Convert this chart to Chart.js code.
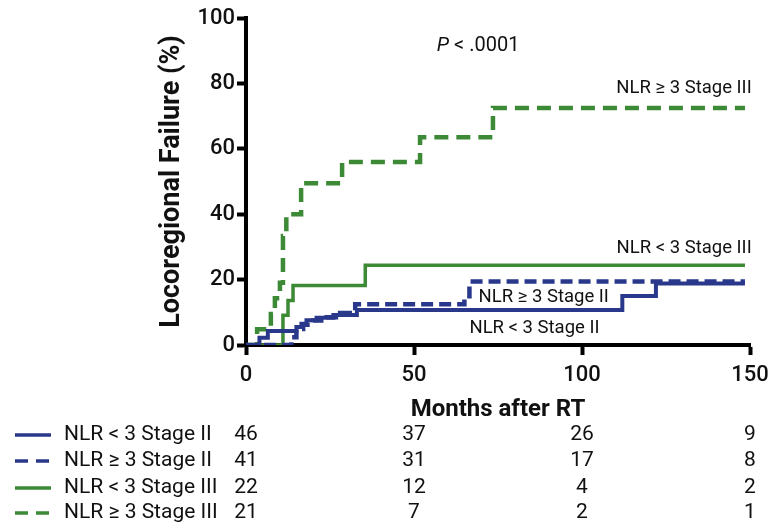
<!DOCTYPE html>
<html>
<head>
<meta charset="utf-8">
<script src="https://cdn.jsdelivr.net/npm/chart.js@4.4.0/dist/chart.umd.min.js"></script>
<style>
  html, body { margin: 0; padding: 0; background: #fff; }
  #wrap { width: 778px; height: 529px; }
</style>
</head>
<body>
<div id="wrap"><canvas id="kmChart" width="778" height="529"></canvas></div>
<script>
// Kaplan-Meier steps (months after RT, % locoregional failure)
const lowStage2Months  = [0, 4, 6.5, 15, 16.5, 18, 21, 26, 33, 112, 122, 148.5];
const lowStage2Fail    = [0, 2.2, 4.3, 5.5, 6.5, 7.6, 8.3, 9.2, 10.7, 15, 18.8, 18.8];

const highStage2Months = [0, 13.5, 15, 17, 20, 24, 28, 32.5, 65, 66.5, 148.5];
const highStage2Fail   = [0, 2.4, 4.9, 6.2, 7.5, 8.5, 9.8, 12.5, 14, 19.4, 19.4];

const lowStage3Months  = [0, 11, 12.5, 14, 35.5, 148.5];
const lowStage3Fail    = [0, 9.1, 13.6, 18.2, 24.4, 24.4];

const highStage3Months = [0, 3.3, 7.4, 8.6, 10.1, 11, 12, 16.4, 28.6, 51.8, 73.5, 148.5];
const highStage3Fail   = [0, 4.8, 9.5, 14.3, 19, 33.3, 40, 49.5, 56, 63.5, 72.5, 72.5];

// number at risk table
const riskMonths    = [0, 50, 100, 150];
const riskLowII     = [46, 37, 26, 9];
const riskHighII    = [41, 31, 17, 8];
const riskLowIII    = [22, 12, 4, 2];
const riskHighIII   = [21, 7, 2, 1];
const groupNames    = ['NLR < 3 Stage II', 'NLR \u2265 3 Stage II', 'NLR < 3 Stage III', 'NLR \u2265 3 Stage III'];

const xTicks = [0, 50, 100, 150];
const yTicks = [0, 20, 40, 60, 80, 100];

const BLUE = '#2a388c';
const GREEN = '#3c8a36';
const FONT = 'Roboto, "Liberation Sans", sans-serif';

function toPoints(months, vals) {
  return months.map((m, i) => ({ x: m, y: vals[i] }));
}

const groups = [
  { name: groupNames[0], color: BLUE,  dash: [],      width: 4,   risk: riskLowII },
  { name: groupNames[1], color: BLUE,  dash: [12, 6], width: 4.5, risk: riskHighII },
  { name: groupNames[2], color: GREEN, dash: [],      width: 3.5, risk: riskLowIII },
  { name: groupNames[3], color: GREEN, dash: [14, 8], width: 4.5, risk: riskHighIII }
];
const curves = [
  toPoints(lowStage2Months, lowStage2Fail),
  toPoints(highStage2Months, highStage2Fail),
  toPoints(lowStage3Months, lowStage3Fail),
  toPoints(highStage3Months, highStage3Fail)
];

// --- labels inside the plot + number-at-risk table ---
const annotatePlugin = {
  id: 'annotate',
  afterDraw(chart) {
    const { ctx, scales: { x, y } } = chart;
    ctx.save();
    ctx.fillStyle = '#111';
    ctx.textBaseline = 'middle';

    // p value
    ctx.font = 'italic 20px ' + FONT;
    ctx.textAlign = 'left';
    const px = x.getPixelForValue(56.8), py = y.getPixelForValue(91.5);
    ctx.fillText('P', px, py);
    const pw = ctx.measureText('P').width;
    ctx.font = '20px ' + FONT;
    ctx.fillText(' < .0001', px + pw, py);

    // curve labels
    ctx.font = '18.5px ' + FONT;
    ctx.textAlign = 'right';
    ctx.fillText(groupNames[3], x.getPixelForValue(150.5), y.getPixelForValue(78.5));
    ctx.fillText(groupNames[2], x.getPixelForValue(150.5), y.getPixelForValue(29.5));
    ctx.textAlign = 'left';
    ctx.fillText(groupNames[1], x.getPixelForValue(69.2), y.getPixelForValue(14.5));
    ctx.fillText(groupNames[0], x.getPixelForValue(66.5), y.getPixelForValue(5.2));

    // number at risk rows
    const rowY = [435, 461, 488, 513];
    groups.forEach((g, i) => {
      const ry = rowY[i];
      ctx.strokeStyle = g.color;
      ctx.lineWidth = 3.5;
      ctx.setLineDash(g.dash.length ? [13, 8] : []);
      ctx.beginPath();
      ctx.moveTo(15, ry);
      ctx.lineTo(51, ry);
      ctx.stroke();
      ctx.setLineDash([]);

      ctx.font = '21px ' + FONT;
      ctx.fillStyle = '#111';
      ctx.textAlign = 'left';
      ctx.fillText(g.name, 64, ry);
      ctx.textAlign = 'center';
      g.risk.forEach((n, k) => {
        ctx.fillText(String(n), x.getPixelForValue(riskMonths[k]), ry);
      });
    });
    ctx.restore();
  }
};

new Chart(document.getElementById('kmChart'), {
  type: 'line',
  data: {
    datasets: groups.map((g, i) => ({
      label: g.name,
      data: curves[i],
      borderColor: g.color,
      borderWidth: g.width,
      borderDash: g.dash,
      stepped: true,
      pointRadius: 0,
      fill: false
    }))
  },
  options: {
    responsive: false,
    animation: false,
    layout: { padding: { left: 156, right: 28, top: 18, bottom: 105 } },
    plugins: {
      legend: { display: false },
      tooltip: { enabled: false }
    },
    scales: {
      x: {
        type: 'linear',
        min: 0,
        max: 150,
        afterFit: s => { s.height = 79; },
        afterBuildTicks: s => { s.ticks = xTicks.map(v => ({ value: v })); },
        border: { display: true, color: '#000', width: 4 },
        grid: { drawOnChartArea: false, drawTicks: true, tickLength: 10, tickWidth: 4, tickColor: '#000' },
        ticks: { color: '#111', padding: 7, maxRotation: 0, font: { family: FONT, size: 22, weight: '500' } },
        title: { display: true, text: 'Months after RT', color: '#111', padding: 0, font: { family: FONT, size: 24, weight: 'bold' } }
      },
      y: {
        min: 0,
        max: 100,
        afterFit: s => { s.width = 90; },
        afterBuildTicks: s => { s.ticks = yTicks.map(v => ({ value: v })); },
        border: { display: true, color: '#000', width: 4 },
        grid: { drawOnChartArea: false, drawTicks: true, tickLength: 9, tickWidth: 4, tickColor: '#000' },
        ticks: { color: '#111', padding: 2, font: { family: FONT, size: 22, weight: '500' } },
        title: { display: true, text: 'Locoregional Failure (%)', color: '#111', padding: 0, font: { family: FONT, size: 27, weight: 'bold' } }
      }
    }
  },
  plugins: [annotatePlugin]
});
</script>
</body>
</html>
